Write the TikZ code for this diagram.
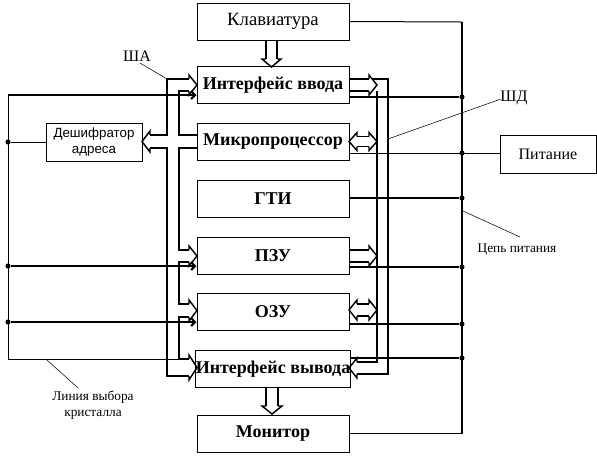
\documentclass[tikz,border=0pt]{standalone}
\usepackage{fontspec}
\setmainfont{Liberation Serif}
\newfontfamily\decfont{Liberation Sans}
\usetikzlibrary{arrows.meta}

\def\boxfont{\fontsize{13.5}{15}\selectfont\bfseries}
\def\smallfont{\fontsize{10}{12}\selectfont}
\tikzstyle{block}=[draw, line width=0.75pt, minimum width=114pt, minimum height=27.75pt, inner sep=0pt, font=\boxfont]
\tikzstyle{sidebox}=[draw, line width=0.75pt, minimum width=72pt, minimum height=28.5pt, inner sep=0pt]
\tikzstyle{power}=[draw, line width=1.5pt]
\tikzstyle{wire}=[draw, line width=0.75pt]
\tikzstyle{busout}=[draw, line width=1.5pt]
\tikzstyle{busin}=[draw, line width=0.9pt]
\tikzstyle{head}=[draw, line width=1.1pt]
\tikzstyle{lead}=[draw, line width=0.4pt]
\tikzstyle{dot}=[circle, fill=black, minimum size=3.8pt, inner sep=0pt]
\tikzstyle{select}=[draw, line width=1.5pt, -{Straight Barb[length=3pt,width=6pt]}]

% hollow bus heads: tip x, tip y, half width of shaft
\newcommand{\headright}[3]{\path[head] (#1-8,#2-#3) -- (#1-8,#2-#3-4) -- (#1,#2) -- (#1-8,#2+#3+4) -- (#1-8,#2+#3);}
\newcommand{\headleft}[3]{\path[head] (#1+8,#2-#3) -- (#1+8,#2-#3-4) -- (#1,#2) -- (#1+8,#2+#3+4) -- (#1+8,#2+#3);}
\newcommand{\headdown}[3]{\path[head] (#1-#3,#2-8) -- (#1-#3-4,#2-8) -- (#1,#2) -- (#1+#3+4,#2-8) -- (#1+#3,#2-8);}

\begin{document}
\begin{tikzpicture}[x=0.75pt,y=-0.75pt]
   \useasboundingbox (0,0) rectangle (597,455);

   % main column
   \node[block, font=\fontsize{14}{16}\selectfont] (klav) at (273,21.5) {Клавиатура};
   \node[block] (vvod) at (273,85) {Интерфейс ввода};
   \node[block] (mp) at (273,141.5) {Микропроцессор};
   \node[block] (gti) at (273,199) {ГТИ};
   \node[block] (pzu) at (273,256) {ПЗУ};
   \node[block] (ozu) at (273,312) {ОЗУ};
   \node[block] (vyvod) at (273,369) {Интерфейс вывода};
   \node[block] (mon) at (273,433.5) {Монитор};

   \node[sidebox, font=\decfont\smallfont, align=center] (desh) at (94,142) {Дешифратор\\адреса};
   \node[sidebox, font=\fontsize{12}{14}\selectfont] (pit) at (548,154) {Питание};

   % power circuit
   \coordinate (ptop) at (462,22);
   \coordinate (pbot) at (462,433.5);
   \node[dot] (p1) at (462,97) {};
   \node[dot] (p2) at (462,153) {};
   \node[dot] (p3) at (462,198) {};
   \node[dot] (p4) at (462,267) {};
   \node[dot] (p5) at (462,324) {};
   \node[dot] (p6) at (462,358) {};
   \path[power] (ptop) -- (pbot);
   \path[wire] (klav.east) -- (ptop);
   \path[wire] (mon.east) -- (pbot);
   \path[power] (vvod.east |- p1) -- (p1);
   \path[wire] (mp.east |- p2) -- (pit.west |- p2);
   \path[power] (gti.east |- p3) -- (p3);
   \path[power] (pzu.east |- p4) -- (p4);
   \path[power] (ozu.east |- p5) -- (p5);
   \path[power] (vyvod.east |- p6) -- (p6);

   % chip select
   \coordinate (s0) at (8,95);
   \node[dot] (s1) at (8,142) {};
   \node[dot] (s2) at (8,266) {};
   \node[dot] (s3) at (8,322) {};
   \coordinate (s4) at (8,359);
   \coordinate (s5) at (179,359);
   \path[wire] (s0) -- (s4) -- (s5);
   \path[wire] (desh.west) -- (s1);
   \path[select] (s0) -- (vvod.west |- s0);
   \path[select] (s2) -- (pzu.west |- s2);
   \path[select] (s3) -- (ozu.west |- s3);

   % address bus
   \path[busout] (189,79) -- (167,79) -- (167,135) -- (150,135);
   \path[busout] (150,148) -- (167,148) -- (167,376) -- (189,376);
   \path[busin] (189,91) -- (179,91) -- (179,135) -- (mp.west |- 0,135);
   \path[busin] (mp.west |- 0,148) -- (179,148) -- (179,250) -- (189,250);
   \path[busin] (189,262) -- (179,262) -- (179,304) -- (189,304);
   \path[busin] (189,317) -- (179,317) -- (179,359) -- (189,359);
   \headright{197}{85}{6}
   \headleft{142}{141.5}{6.5}
   \headright{197}{256}{6}
   \headright{197}{310.5}{6.5}
   \headright{197}{367.5}{8.5}

   % data bus
   \path[busin] (349,79) -- (369,79);
   \path[busin] (349,91) -- (369,91);
   \path[busin] (372,79) -- (388,79) -- (388,374) -- (357,374);
   \path[busout] (377,91) -- (377,362) -- (357,362);
   \headright{377}{85}{6}
   \path[busin] (357,136.5) -- (369,136.5);
   \path[busin] (357,146.5) -- (369,146.5);
   \headleft{349}{141.5}{5}
   \headright{377}{141.5}{5}
   \path[busin] (349,250) -- (369,250);
   \path[busin] (349,262) -- (369,262);
   \headright{377}{256}{6}
   \path[busin] (357,304) -- (369,304);
   \path[busin] (357,316) -- (369,316);
   \headleft{349}{310}{6}
   \headright{377}{310}{6}
   \headleft{349}{368}{6}

   % keyboard and monitor
   \path[busin] (266,40) -- (266,59);
   \path[busin] (277,40) -- (277,59);
   \headdown{271.5}{67}{5.5}
   \path[busin] (266,388) -- (266,406);
   \path[busin] (278,388) -- (278,406);
   \headdown{272}{414}{6}

   % labels
   \node[font=\fontsize{12}{14}\selectfont] (sha) at (137,56) {ША};
   \node[font=\fontsize{12}{14}\selectfont] (shd) at (514,98) {ШД};
   \node[font=\smallfont] (cep) at (517,250) {Цепь питания};
   \node[font=\smallfont, align=center, inner sep=0pt] (lin) at (93,405) {Линия выбора\\кристалла};
   \path[lead] (140,63) -- (167,79);
   \path[lead] (501,99) -- (388,139);
   \path[lead] (520,237) -- (463,211);
   \path[lead] (78,388) -- (47,360);
\end{tikzpicture}
\end{document}
